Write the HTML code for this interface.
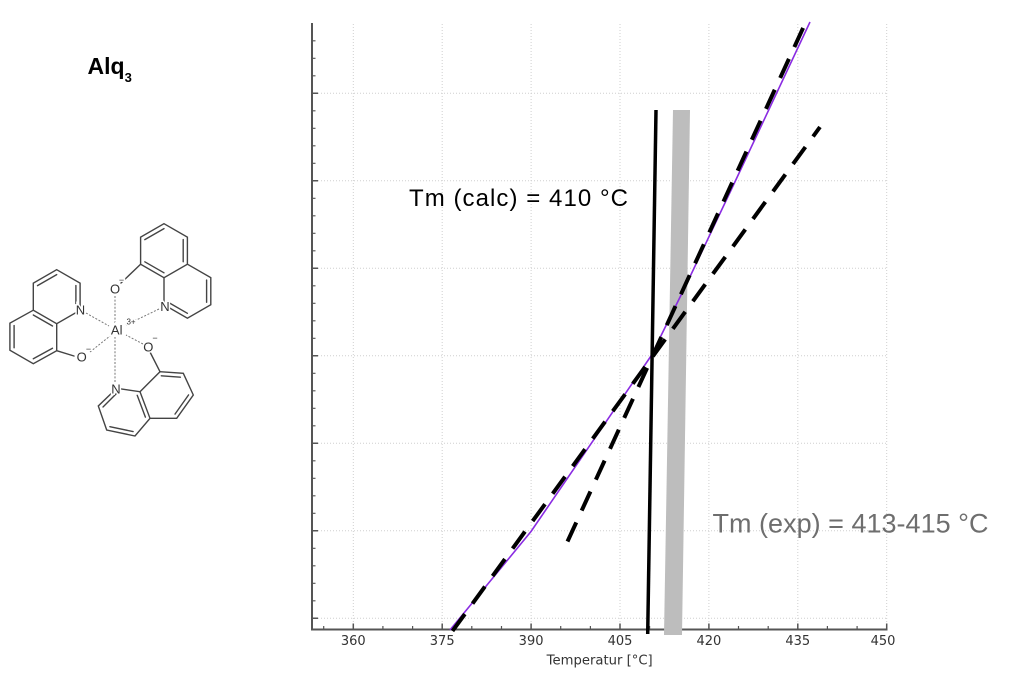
<!DOCTYPE html>
<html><head><meta charset="utf-8">
<style>
html,body{margin:0;padding:0;background:#fff;}
svg{display:block;}
</style></head>
<body>
<svg width="1011" height="680" viewBox="0 0 1011 680" xmlns="http://www.w3.org/2000/svg">
<rect width="1011" height="680" fill="#fff"/>

<!-- Title -->
<text x="87.5" y="74" font-family="Liberation Sans, Arial, sans-serif" font-weight="bold" font-size="23" fill="#000">Alq<tspan font-size="13" dy="8">3</tspan></text>

<!-- Molecule -->
<g stroke="#444" stroke-width="1.4" fill="none" stroke-linecap="round">
  <path d="M56.7,269.7 L80.1,283.2 L80.1,310.2 L56.7,323.7 L33.3,310.2 L33.3,283.2 Z"/>
  <path d="M56.7,323.7 L56.7,350.7 L33.3,363.7 L9.9,350.2 L9.9,323.2 L33.3,310.2"/>
  <line x1="56.7" y1="350.7" x2="74" y2="356"/>
  <line x1="37.5" y1="285.6" x2="56.7" y2="274.6"/>
  <line x1="75.9" y1="285.6" x2="75.9" y2="304"/>
  <line x1="33.3" y1="315" x2="52.5" y2="326"/>
  <line x1="14.1" y1="325.6" x2="14.1" y2="347.8"/>
  <line x1="33.3" y1="358.8" x2="52.5" y2="348.2"/>

  <path d="M164,223.7 L187.4,237.2 L187.4,264.2 L164,277.7 L140.6,264.2 L140.6,237.2 Z"/>
  <path d="M187.4,264.2 L210.8,277.7 L210.8,304.7 L187.4,318.2 L164,304.7 L164,277.7"/>
  <line x1="140.6" y1="264.2" x2="121" y2="283"/>
  <line x1="144.8" y1="239.6" x2="164" y2="228.6"/>
  <line x1="183.2" y1="239.6" x2="183.2" y2="261.8"/>
  <line x1="144.8" y1="261.8" x2="164" y2="272.8"/>
  <line x1="206.6" y1="280.1" x2="206.6" y2="302.3"/>
  <line x1="169.5" y1="303" x2="187.4" y2="313.3"/>

  <path d="M116.7,388.3 L140,391.7 L150,418.3 L135,436 L106.7,430 L98.3,406 Z"/>
  <path d="M140,391.7 L160,371.7 L183.3,373.3 L193.3,395 L176.7,418.3 L150,418.3"/>
  <line x1="160" y1="371.7" x2="150" y2="352"/>
  <line x1="117" y1="393" x2="103" y2="407"/>
  <line x1="109.9" y1="426.7" x2="133.1" y2="431.6"/>
  <line x1="145.4" y1="417.1" x2="137.2" y2="395.3"/>
  <line x1="161.3" y1="375.8" x2="180.4" y2="377.2"/>
  <line x1="188.6" y1="394.9" x2="175" y2="414.1"/>
</g>
<g stroke="#777" stroke-width="1" stroke-dasharray="2 1.6" fill="none">
  <line x1="86" y1="313" x2="109" y2="326"/>
  <line x1="90" y1="352" x2="110" y2="336"/>
  <line x1="115" y1="296" x2="115" y2="323"/>
  <line x1="159" y1="309" x2="126" y2="325"/>
  <line x1="143" y1="344" x2="126" y2="335"/>
  <line x1="115" y1="382" x2="115" y2="337"/>
</g>
<g font-family="Liberation Sans, Arial, sans-serif" fill="#333" text-anchor="middle" stroke="#fff" stroke-width="3" paint-order="stroke">
  <text x="80.5" y="314.5" font-size="13">N</text>
  <text x="81.7" y="361.5" font-size="13">O</text>
  <text x="88.5" y="352" font-size="9">−</text>
  <text x="115" y="293.5" font-size="13">O</text>
  <text x="121.5" y="283" font-size="9">−</text>
  <text x="165" y="311" font-size="13">N</text>
  <text x="148.3" y="351.5" font-size="13">O</text>
  <text x="155" y="341" font-size="9">−</text>
  <text x="116" y="393.5" font-size="13">N</text>
  <text x="116.7" y="334.5" font-size="13">Al</text>
  <text x="131" y="324.5" font-size="8">3+</text>
</g>

<!-- Grid -->
<g stroke="#cfcfcf" stroke-width="1" stroke-dasharray="1 2" fill="none">
  <line x1="353.3" y1="24" x2="353.3" y2="629"/>
  <line x1="442.2" y1="24" x2="442.2" y2="629"/>
  <line x1="531.1" y1="24" x2="531.1" y2="629"/>
  <line x1="620" y1="24" x2="620" y2="629"/>
  <line x1="708.9" y1="24" x2="708.9" y2="629"/>
  <line x1="797.8" y1="24" x2="797.8" y2="629"/>
  <line x1="886.7" y1="24" x2="886.7" y2="629"/>
  <line x1="312" y1="93.3" x2="887" y2="93.3"/>
  <line x1="312" y1="180.8" x2="887" y2="180.8"/>
  <line x1="312" y1="268.3" x2="887" y2="268.3"/>
  <line x1="312" y1="355.8" x2="887" y2="355.8"/>
  <line x1="312" y1="443.3" x2="887" y2="443.3"/>
  <line x1="312" y1="530.8" x2="887" y2="530.8"/>
  <line x1="312" y1="618.3" x2="887" y2="618.3"/>
</g>

<!-- Axes -->
<g stroke="#555" fill="none">
  <line x1="312" y1="23" x2="312" y2="630.5" stroke-width="2"/>
  <line x1="311" y1="629.5" x2="887.5" y2="629.5" stroke-width="2"/>
  <path stroke-width="1.5" d="M312,93.3h6M312,180.8h6M312,268.3h6M312,355.8h6M312,443.3h6M312,530.8h6M312,618.3h6"/>
  <path stroke-width="1.2" d="M312,40.8h3.5M312,58.3h3.5M312,75.8h3.5M312,110.8h3.5M312,128.3h3.5M312,145.8h3.5M312,163.3h3.5M312,198.3h3.5M312,215.8h3.5M312,233.3h3.5M312,250.8h3.5M312,285.8h3.5M312,303.3h3.5M312,320.8h3.5M312,338.3h3.5M312,373.3h3.5M312,390.8h3.5M312,408.3h3.5M312,425.8h3.5M312,460.8h3.5M312,478.3h3.5M312,495.8h3.5M312,513.3h3.5M312,548.3h3.5M312,565.8h3.5M312,583.3h3.5M312,600.8h3.5"/>
  <path stroke-width="1.5" d="M353.3,629.5v-6M442.2,629.5v-6M531.1,629.5v-6M620,629.5v-6M708.9,629.5v-6M797.8,629.5v-6M886.7,629.5v-6"/>
  <path stroke-width="1.2" d="M323.7,629.5v-3.5M382.9,629.5v-3.5M412.6,629.5v-3.5M471.8,629.5v-3.5M501.5,629.5v-3.5M560.7,629.5v-3.5M590.4,629.5v-3.5M649.6,629.5v-3.5M679.3,629.5v-3.5M738.5,629.5v-3.5M768.2,629.5v-3.5M827.4,629.5v-3.5M857.1,629.5v-3.5"/>
</g>

<g font-family="DejaVu Sans, Liberation Sans, sans-serif" font-size="13" fill="#333" text-anchor="middle">
  <text x="353.3" y="645">360</text>
  <text x="442.2" y="645">375</text>
  <text x="531.1" y="645">390</text>
  <text x="620" y="645">405</text>
  <text x="708.9" y="645">420</text>
  <text x="797.8" y="645">435</text>
  <text x="883" y="645">450</text>
</g>
<text x="546.7" y="664.5" font-family="DejaVu Sans, Liberation Sans, sans-serif" font-size="13" fill="#333" textLength="106" lengthAdjust="spacingAndGlyphs">Temperatur [°C]</text>

<polygon points="673,110 690,110 682,635 664,635" fill="#bdbdbd"/>

<polyline points="450,630 531,531.5 651,356 687,283 733,186 810,22" fill="none" stroke="#8a2be2" stroke-width="1.6" stroke-linejoin="round"/>

<line x1="452.5" y1="631" x2="820" y2="127" stroke="#000" stroke-width="4" stroke-dasharray="21 13"/>
<line x1="567.5" y1="541.5" x2="804" y2="26" stroke="#000" stroke-width="4" stroke-dasharray="21 13"/>

<line x1="647.7" y1="634" x2="656" y2="110" stroke="#000" stroke-width="3.5"/>

<text x="409" y="206" font-family="Liberation Sans, Arial, sans-serif" font-size="24" fill="#000" textLength="219">Tm (calc) = 410 °C</text>
<text x="712.5" y="532.7" font-family="Liberation Sans, Arial, sans-serif" font-size="27" fill="#6e6e6e" textLength="276">Tm (exp) = 413-415 °C</text>
</svg>
</body></html>
